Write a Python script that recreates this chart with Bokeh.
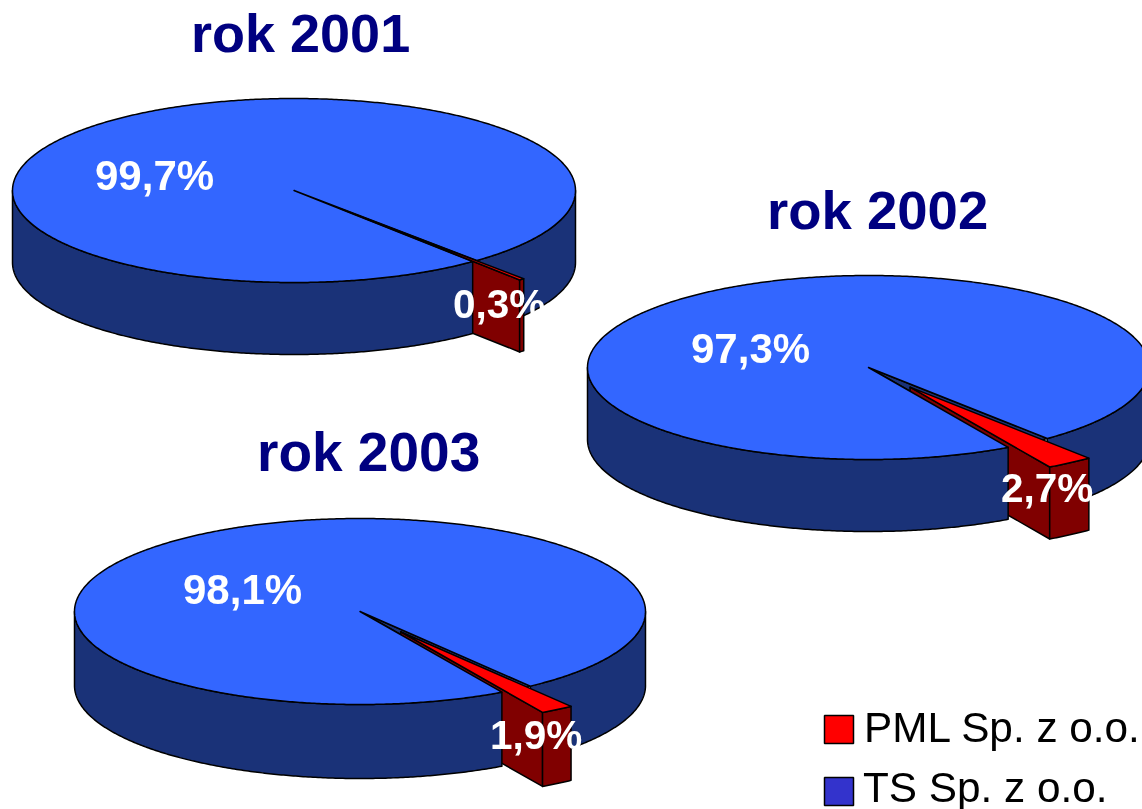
import math
from bokeh.plotting import figure
from bokeh.models import Range1d
from bokeh.core.properties import value
from bokeh.embed import file_html
from bokeh.resources import INLINE

# data
years = ["rok 2001", "rok 2002", "rok 2003"]
pml_share = [0.3, 2.7, 1.9]
ts_share = [99.7, 97.3, 98.1]
legend_labels = ["PML Sp. z o.o.", "TS Sp. z o.o."]

# geometry (screen pixel space)
pies = [
    dict(cx=293.5, cy=190, rx=281.5, ry=92, depth=72, end=50.6, tsize=54,
         title=(190.5, 54.5), big=(94.5, 192), small=(452.5, 320)),
    dict(cx=868, cy=367, rx=281, ry=92, depth=72, end=60.2, tsize=54.5,
         title=(766.5, 231.5), big=(690.5, 365), small=(1000.5, 503.5)),
    dict(cx=359.5, cy=611, rx=285.5, ry=93, depth=74, end=60.2, tsize=55,
         title=(256.5, 473), big=(182.5, 606), small=(489.5, 751)),
]
EXPLODE = 0.26
TOP, WALL, RED, DARK = "#3366FF", "#1A3278", "#FF0000", "#800000"
LW = 1.5
BASE_SHIFT = 0.4  # em, lifts the svg text onto the wanted baseline

p = figure(width=1142, height=809, output_backend="svg", toolbar_location=None,
           x_range=Range1d(0, 1142), y_range=Range1d(809, 0), min_border=0,
           styles={"position": "fixed", "left": "0px", "top": "0px"})
p.axis.visible = False
p.grid.visible = False
p.outline_line_color = None
p.background_fill_color = "white"


def arc(cx, cy, rx, ry, a0, a1, dy=0.0, n=None):
    n = n or max(2, int(abs(a1 - a0)) * 2)
    pts = []
    for i in range(n + 1):
        t = math.radians(a0 + (a1 - a0) * i / n)
        pts.append((cx + rx * math.cos(t), cy + ry * math.sin(t) + dy))
    return pts


def poly(pts, fill):
    p.patch([q[0] for q in pts], [q[1] for q in pts], fill_color=fill,
            line_color="black", line_width=LW, line_join="round")


def label(x, y, txt, colour, size, bold=True):
    p.text([x], [y - BASE_SHIFT * size], text=[txt], text_color=colour,
           text_font=value("Liberation Sans"),
           text_font_style="bold" if bold else "normal",
           text_font_size=f"{size}px", text_baseline="alphabetic")


for g, year, pml, ts in zip(pies, years, pml_share, ts_share):
    cx, cy, rx, ry, d = g["cx"], g["cy"], g["rx"], g["ry"], g["depth"]
    a2 = g["end"]
    a1 = a2 - pml * 3.6
    mid = math.radians((a1 + a2) / 2)
    ax = cx + EXPLODE * rx * math.cos(mid)
    ay = cy + EXPLODE * ry * math.sin(mid)

    # gap in the base pie, showing its inner wall
    poly([(cx, cy)] + arc(cx, cy, rx, ry, a1, a2), WALL)
    # right part of the base wall
    poly(arc(cx, cy, rx, ry, 0, a1) + arc(cx, cy, rx, ry, a1, 0, d), WALL)
    # walls of the exploded slice
    e1 = arc(ax, ay, rx, ry, a2, a2, n=1)[0]
    poly([(ax, ay), e1, (e1[0], e1[1] + d), (ax, ay + d)], DARK)
    poly(arc(ax, ay, rx, ry, a1, a2) + arc(ax, ay, rx, ry, a2, a1, d), DARK)
    # left part of the base wall
    poly(arc(cx, cy, rx, ry, a2, 180) + arc(cx, cy, rx, ry, 180, a2, d), WALL)
    # base top, slice top
    poly([(cx, cy)] + arc(cx, cy, rx, ry, a2, a1 + 360), TOP)
    poly([(ax, ay)] + arc(ax, ay, rx, ry, a1, a2), RED)

    label(g["title"][0], g["title"][1], year, "#000080", g["tsize"])
    label(g["big"][0], g["big"][1], f"{ts:.1f}%".replace(".", ","), "white", 42)
    label(g["small"][0], g["small"][1], f"{pml:.1f}%".replace(".", ","), "white", 40.5)

# legend
for txt, colour, top, tx, base in zip(legend_labels, [RED, "#3333CC"], [715, 777], [863.5, 862.5], [744, 804]):
    p.quad(left=[824], right=[853], top=[top], bottom=[top + 28], fill_color=colour,
           line_color="black", line_width=1.5)
    label(tx, base, txt, "black", 42.3, bold=False)

open("out.html", "w").write(file_html(p, INLINE))
